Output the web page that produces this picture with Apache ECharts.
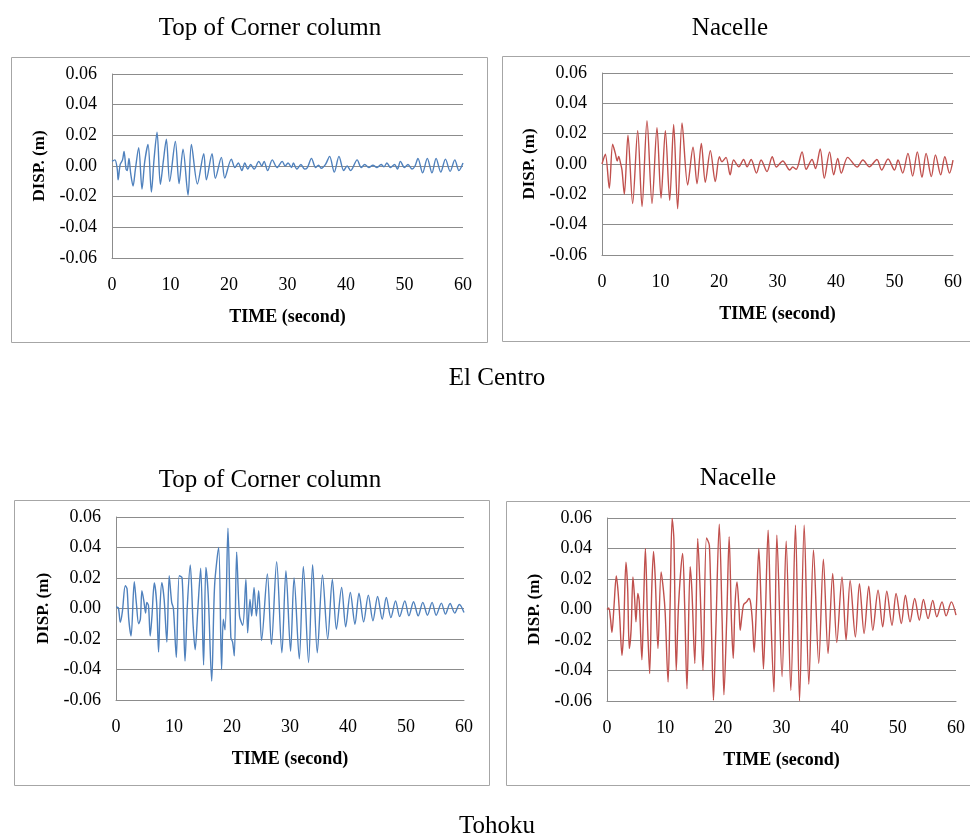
<!DOCTYPE html>
<html>
<head>
<meta charset="utf-8">
<script src="https://cdn.jsdelivr.net/npm/echarts@6.0.0/dist/echarts.min.js"></script>
<style>
  html, body { margin: 0; padding: 0; background: #fff; }
  #main { width: 970px; height: 838px; }
</style>
</head>
<body>
<div id="main"></div>
<script>
// El Centro - top of corner column (read from peaks / troughs)
const elCornerT = [0, 0.5, 0.9, 1.05, 1.4, 1.8, 2.06, 2.4, 2.6, 2.9, 3.2, 3.6, 4.0, 4.56, 5.13, 5.6, 6.16, 6.73, 7.2, 7.7, 8.27, 8.8, 9.29, 9.86, 10.83, 11.46, 12.14, 13.0, 13.57, 14.6, 15.68, 16.13, 17.1, 17.67, 18.7, 19.27,
  20.4, 21.0, 21.6, 22.2, 22.7, 23.2, 23.7, 24.3, 25.1, 25.6, 26.0, 26.6, 27.4, 28.2, 29.1, 29.6, 30.1, 30.7, 31.0, 31.6, 32.3, 32.9, 33.4, 34.1, 34.8, 35.3, 35.8, 36.5, 37.2, 38.0, 38.8, 39.6, 40.2, 40.8,
  41.9, 42.6, 43.2, 43.9, 44.6, 45.3, 46.0, 46.5, 47.0, 47.6, 48.3, 48.8, 49.3, 50.0, 50.6, 51.3, 51.8, 52.3, 53.1, 53.9, 54.7, 55.4, 56.2, 57.0, 57.8, 58.6, 59.3, 60.0];
const elCornerV = [0.003, 0.004, -0.002, -0.009, 0.001, 0.004, 0.0095, -0.002, -0.003, 0.005, -0.005, -0.013, -0.002, 0.012, -0.015, 0.003, 0.014, -0.017, 0.005, 0.022, -0.012, 0.004, 0.0175, -0.010, 0.016, -0.0115, 0.011, -0.019, 0.014, -0.0117, 0.008, -0.009, 0.008, -0.008, 0.0056, -0.0078,
  0.0045, -0.001, 0.002, -0.003, 0.002, -0.002, 0.001, -0.002, 0.003, 0, 0.003, -0.003, 0.004, -0.001, 0.003, 0, 0.002, -0.001, 0.002, -0.002, 0.001, -0.002, -0.001, 0.005, -0.001, 0.0005, -0.0015, 0.001, 0.0063, -0.004, 0.0063, -0.003, 0, -0.003,
  0.004, -0.001, 0.001, -0.001, 0.0005, -0.001, 0.001, -0.0005, 0.002, -0.001, 0.001, -0.002, 0.003, -0.001, 0.001, -0.002, 0, 0.005, -0.0045, 0.005, -0.0045, 0.005, -0.004, 0.0045, -0.0035, 0.004, -0.003, 0.002];

// El Centro - nacelle
const elNacelleT = [0, 0.57, 1.25, 1.82, 2.28, 2.6, 2.85, 3.2, 3.42, 3.82, 4.44, 5.24, 6.1, 6.84, 7.69, 8.55, 9.4, 10.09, 10.83, 11.57, 12.25, 12.93, 13.68, 14.64, 15.56, 16.24, 16.98, 17.66, 18.52, 19.37,
  20.06, 20.5, 21.2, 21.9, 22.5, 23.4, 24.2, 24.8, 25.5, 26.4, 27.2, 28.2, 29.1, 29.8, 30.9, 32.1, 32.6, 33.2, 34.2, 34.9, 35.9, 36.5, 37.3, 38.0, 38.9, 39.6, 40.3, 40.9,
  42.0, 43.6, 44.6, 45.7, 47.0, 47.8, 48.9, 50.0, 50.6, 51.4, 52.3, 53.1, 53.9, 54.7, 55.4, 56.3, 57.0, 57.9, 58.6, 59.4, 60.0];
const elNacelleV = [0, 0.0064, -0.016, 0.013, 0.007, 0.002, 0.005, 0, -0.004, -0.020, 0.019, -0.026, 0.022, -0.028, 0.0285, -0.026, 0.024, -0.0225, 0.022, -0.024, 0.026, -0.0295, 0.027, -0.0138, 0.011, -0.013, 0.0136, -0.012, 0.0088, -0.0116,
  0.0048, 0.0015, 0.0044, -0.0072, 0.0026, -0.0018, 0.003, -0.0018, 0.003, -0.006, 0.0026, -0.005, 0.0048, -0.002, 0.002, -0.004, -0.002, -0.0035, 0.008, -0.0035, 0.003, -0.003, 0.010, -0.0094, 0.008, -0.0072, 0.0037, -0.006,
  0.0044, -0.002, 0.0026, -0.0018, 0.003, -0.004, 0.0033, -0.004, 0.0026, -0.006, 0.007, -0.008, 0.008, -0.0088, 0.007, -0.0083, 0.006, -0.0072, 0.0048, -0.006, 0.0026];

// Tohoku - top of corner column
const thCornerT = [0, 0.4, 0.74, 1.1, 1.6, 1.9, 2.2, 2.6, 3.15, 3.5, 3.9, 4.2, 4.47, 4.8, 5.1, 5.3, 5.6, 5.9, 6.2, 6.6, 7.0, 7.34, 7.6, 7.9, 8.3, 8.77, 9.17, 9.6, 9.9, 10.4, 10.9, 11.4, 11.9, 12.3, 12.8, 13.3, 13.65, 14.1, 14.6, 15.1, 15.5, 15.9, 16.5, 17.0, 17.7, 18.2, 18.5, 18.8, 19.3, 19.8, 20.1, 20.4, 20.8,
  21.3, 21.85, 22.4, 22.7, 23.1, 23.4, 23.8, 24.2, 24.6, 25.1, 26.1, 26.8, 27.7, 28.6, 29.3, 30.1, 30.7, 31.6, 32.3, 33.2, 33.9, 34.7, 35.6, 36.5, 37.3, 38.0, 38.9, 39.6, 40.4, 41.2, 41.9, 42.7, 43.5, 44.3, 45.1, 45.9, 46.6,
  47.4, 48.2, 48.9, 49.8, 50.5, 51.3, 52.1, 52.9, 53.7, 54.5, 55.2, 56.1, 56.8, 57.6, 58.4, 59.2, 60.0];
const thCornerV = [0.001, 0.0005, -0.009, -0.002, 0.015, 0.013, -0.007, -0.018, 0.0175, 0.004, -0.010, -0.007, 0.0116, 0.005, -0.003, 0.004, 0.002, -0.018, -0.005, 0.0167, 0.004, -0.0285, 0.002, 0.017, 0.006, -0.022, 0.0215, 0.004, 0, -0.032, 0.0215, 0.020, -0.0344, 0.002, 0.0285, -0.011, -0.027, -0.001, 0.0265, -0.037, 0.027, 0.009, -0.0476, 0.015, 0.040, -0.040, -0.007, -0.014, 0.0526, -0.019, -0.022, -0.031, 0.037,
  -0.005, -0.011, 0.019, -0.016, 0.006, -0.005, 0.0138, -0.005, 0.0116, -0.021, 0.0226, -0.0235, 0.0307, -0.029, 0.0248, -0.028, 0.020, -0.033, 0.0276, -0.0355, 0.0287, -0.029, 0.022, -0.020, 0.019, -0.0136, 0.0138, -0.012, 0.0105, -0.0103, 0.010, -0.0088, 0.0088, -0.008, 0.0079, -0.007, 0.0072,
  -0.006, 0.005, -0.0053, 0.005, -0.0048, 0.0044, -0.0048, 0.004, -0.0044, 0.004, -0.0044, 0.0035, -0.0037, 0.0033, -0.003, 0.0026, -0.0026];

// Tohoku - nacelle
const thNacelleT = [0, 0.3, 0.6, 0.85, 1.2, 1.6, 1.9, 2.2, 2.57, 2.85, 3.26, 3.55, 3.83, 4.15, 4.46, 4.75, 4.98, 5.3, 5.55, 6.0, 6.3, 6.6, 7.0, 7.33, 7.7, 8.0, 8.3, 8.76, 9.3, 9.7, 10.0, 10.5, 10.85, 11.2, 11.5, 11.9, 12.3, 13.0, 13.35, 13.75, 14.3, 14.6, 15.1, 15.6, 16.0, 16.5, 17.1, 17.6, 18.0, 18.3, 18.7, 19.3, 19.8, 20.1, 20.6, 21.0, 21.4, 21.7,
  22.0, 22.35, 22.7, 22.9, 23.2, 23.5, 24.0, 24.4, 24.7, 25.0, 25.3, 25.7, 26.1, 26.5, 26.9, 27.2, 27.7, 28.1, 28.7, 29.2, 30.1, 30.8, 31.6, 32.4, 33.1, 33.9, 34.7, 35.5, 36.4, 37.2, 38.0, 38.8, 39.5, 40.4, 41.1, 41.8,
  42.7, 43.4, 44.2, 45.0, 45.7, 46.6, 47.4, 48.1, 49.0, 49.7, 50.6, 51.3, 52.1, 52.9, 53.7, 54.4, 55.2, 56.0, 56.7, 57.6, 58.3, 59.2, 60.0];
const thNacelleV = [0, 0.001, -0.006, -0.015, 0.002, 0.022, 0.012, -0.006, -0.030, -0.015, 0.031, 0.014, -0.0256, -0.013, 0.0214, 0.007, -0.008, 0.0105, 0.005, -0.033, 0.005, 0.040, -0.013, -0.042, 0.014, 0.038, 0.020, -0.0256, 0.0247, 0.0127, -0.002, -0.0475, 0.003, 0.0597, 0.046, -0.040, 0.003, 0.0367, 0.003, -0.052, 0.028, 0.012, -0.0354, 0.0466, 0.014, -0.040, 0.047, 0.042, -0.019, -0.0595, -0.015, 0.056, -0.008, -0.056, -0.004, 0.0477, -0.008, -0.032,
  0.002, 0.018, 0, -0.0136, -0.004, 0.0033, 0.005, 0.0072, 0.004, -0.008, -0.028, 0.003, 0.040, 0.003, -0.039, -0.008, 0.052, 0.003, -0.054, 0.0487, -0.044, 0.0448, -0.053, 0.0553, -0.0598, 0.0553, -0.049, 0.039, -0.0354, 0.033, -0.0289, 0.0236, -0.0216, 0.0214, -0.020, 0.019,
  -0.018, 0.017, -0.0157, 0.0153, -0.0136, 0.0127, -0.0114, 0.012, -0.0103, 0.0105, -0.0092, 0.0094, -0.0081, 0.0072, -0.007, 0.0066, -0.006, 0.006, -0.0048, 0.005, -0.0042, 0.005, -0.0037];

const FONT = '"Liberation Serif", "Times New Roman", serif';
const BLUE = '#4f81bd';
const RED = '#c0504d';

function pairs(ts, vs) {
  return ts.map((t, i) => [t, vs[i]]);
}

// plot areas
const panels = [
  { left: 112, top: 74, width: 351, height: 184, t: elCornerT, v: elCornerV, color: BLUE },
  { left: 602, top: 73, width: 351, height: 182, t: elNacelleT, v: elNacelleV, color: RED },
  { left: 116, top: 517, width: 348, height: 183, t: thCornerT, v: thCornerV, color: BLUE },
  { left: 607, top: 518, width: 349, height: 183, t: thNacelleT, v: thNacelleV, color: RED }
];

const grid = [], xAxis = [], yAxis = [], series = [];
panels.forEach((p, i) => {
  grid.push({ left: p.left, top: p.top, width: p.width, height: p.height, containLabel: false });
  xAxis.push({
    type: 'value', gridIndex: i, min: 0, max: 60, interval: 10,
    name: 'TIME (second)', nameLocation: 'middle', nameGap: 50,
    nameTextStyle: { fontFamily: FONT, fontSize: 18, fontWeight: 'bold', color: '#000' },
    axisLine: { show: true, onZero: false, lineStyle: { color: '#8c8c8c', width: 1 } },
    axisTick: { show: false },
    splitLine: { show: false },
    axisLabel: { fontFamily: FONT, fontSize: 18, color: '#000', margin: 18 }
  });
  yAxis.push({
    type: 'value', gridIndex: i, min: -0.06, max: 0.06, interval: 0.02,
    name: 'DISP. (m)', nameLocation: 'middle', nameGap: 64, nameRotate: 90,
    nameTextStyle: { fontFamily: FONT, fontSize: 17, fontWeight: 'bold', color: '#000' },
    axisLine: { show: true, lineStyle: { color: '#8c8c8c', width: 1 } },
    axisTick: { show: false },
    splitLine: { show: true, lineStyle: { color: '#8c8c8c', width: 1 } },
    axisLabel: { fontFamily: FONT, fontSize: 18, color: '#000', margin: 15, formatter: v => v.toFixed(2) }
  });
  series.push({
    type: 'line', xAxisIndex: i, yAxisIndex: i,
    data: pairs(p.t, p.v),
    showSymbol: false, smooth: 0.3,
    lineStyle: { color: p.color, width: 1.4 },
    animation: false
  });
});

function label(text, x, y) {
  return {
    type: 'text', x: x, y: y,
    style: { text: text, font: '25px ' + FONT, fill: '#000', textAlign: 'center', textVerticalAlign: 'middle' }
  };
}
function frame(x, y, w, h) {
  return {
    type: 'rect', shape: { x: x, y: y, width: w, height: h }, z: -1,
    style: { fill: 'none', stroke: '#a6a6a6', lineWidth: 1 }
  };
}

const chart = echarts.init(document.getElementById('main'));
chart.setOption({
  backgroundColor: '#fff',
  animation: false,
  grid, xAxis, yAxis, series,
  graphic: [
    frame(11.5, 57.5, 476, 285),
    frame(502.5, 56.5, 480, 285),
    frame(14.5, 500.5, 475, 285),
    frame(506.5, 501.5, 480, 284),
    label('Top of Corner column', 270, 28),
    label('Nacelle', 730, 28),
    label('El Centro', 497, 378),
    label('Top of Corner column', 270, 480),
    label('Nacelle', 738, 478),
    label('Tohoku', 497, 826)
  ]
});
</script>
</body>
</html>
